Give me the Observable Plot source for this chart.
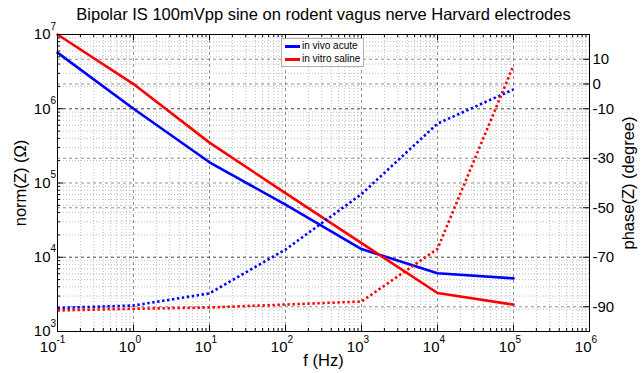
<!DOCTYPE html>
<html><head><meta charset="utf-8">
<script src="https://cdn.jsdelivr.net/npm/d3@7"></script>
<script src="https://cdn.jsdelivr.net/npm/@observablehq/plot@0.6"></script>
<style>
body{margin:0;background:#fff;}
#wrap{position:relative;width:641px;height:373px;font-family:"Liberation Sans",Arial,sans-serif;}
#wrap svg{position:absolute;left:0;top:0;}
#legend{position:absolute;left:281px;top:38px;width:81px;height:27px;background:#fff;border:1px solid #b0b0b0;font-size:10px;color:#000;}
#legend .row{position:absolute;left:3px;height:12px;line-height:12px;white-space:nowrap;}
#legend .sw{display:inline-block;width:15px;height:3px;vertical-align:middle;margin-right:2px;}
</style></head><body><div id="wrap"></div><script>
// ---- data ----
const freq = [0.1, 1, 10, 100, 1000, 10000, 100000];
const vivoMag = [5.7e6, 1.0e6, 1.9e5, 5.1e4, 1.29e4, 6.1e3, 5.2e3];
const vitroMag = [1.0e7, 2.15e6, 3.5e5, 7.3e4, 1.55e4, 3.3e3, 2.3e3];
const vivoPhase = [-90.5, -89.5, -84.6, -66.9, -44.5, -16, -2.2];
const vitroPhase = [-91.5, -90.8, -90.3, -89.1, -87.9, -66.6, 7.5];
const seriesNames = ["in vivo acute", "in vitro saline"];
const seriesColors = ["#0000ff", "#ff0000"];
const xTickExp = [-1, 0, 1, 2, 3, 4, 5, 6];
const yTickExp = [3, 4, 5, 6, 7];
const phaseTicks = [-90, -70, -50, -30, -10, 0, 10];
const titleText = "Bipolar IS 100mVpp sine on rodent vagus nerve Harvard electrodes";
const xLabel = "f (Hz)";
const yLabel = "norm(Z) (\u03A9)";
const y2Label = "phase(Z) (degree)";

// ---- layout ----
const W = 641, H = 373;
const M = {marginLeft: 57, marginRight: 52, marginTop: 34, marginBottom: 42};
const xDom = [0.1, 1e6], yDom = [1e3, 1e7], pDom = [-100, 20];
const font = {fontFamily: "Liberation Sans, Arial, sans-serif", fontSize: "15px", background: "transparent", overflow: "visible"};

const xMajor = xTickExp.map(e => 10 ** e);
const yMajor = yTickExp.map(e => 10 ** e);
const minorOf = exps => exps.slice(0, -1).flatMap(e => d3.range(2, 10).map(m => m * 10 ** e));
const xMinor = minorOf(xTickExp);
const yMinor = minorOf(yTickExp);
const xNeg = xTickExp.filter(e => e < 0), xPos = xTickExp.filter(e => e >= 0);

const rowsMag = [vivoMag, vitroMag].flatMap((arr, s) => freq.map((f, i) => ({f, v: arr[i], s})));
const rowsPh = [vivoPhase, vitroPhase].flatMap((arr, s) => freq.map((f, i) => ({f, v: arr[i], s})));

const pxX = 76, pxY = 74.25; // px per decade (for tick lengths in data units)
const tk = (n, px) => 10 ** (n / px);

const gridMinor = {stroke: "#8a8a8a", strokeOpacity: 0.7, strokeDasharray: "1,2", strokeWidth: 0.8};
const gridMajor = {stroke: "#444", strokeOpacity: 0.75, strokeDasharray: "3,3", strokeWidth: 0.8};
const T = {lineAnchor: "middle"};

const xLab = (exps, dx) => [
  Plot.text(exps, {...T, x: e => 10 ** e, text: () => "10", frameAnchor: "bottom", dy: 16, dx, textAnchor: "end", fontSize: 15}),
  Plot.text(exps, {...T, x: e => 10 ** e, text: e => String(e), frameAnchor: "bottom", dy: 8, dx, textAnchor: "start", fontSize: 10})
];

// layer 1: phase grid and right axis
const p1 = Plot.plot({
  width: W, height: H, ...M,
  x: {type: "log", domain: xDom, axis: null},
  y: {type: "linear", domain: pDom, axis: null},
  style: font,
  marks: [
    Plot.ruleY(phaseTicks, {...gridMajor}),
    Plot.ruleY(phaseTicks, {x1: 1e6 / tk(6, pxX), x2: 1e6, stroke: "#000"}),
    Plot.text(phaseTicks, {...T, y: d => d, text: d => String(d), frameAnchor: "right", textAnchor: "start", dx: 3, fontSize: 15}),
    Plot.text([y2Label], {...T, frameAnchor: "right", textAnchor: "middle", dx: 39, rotate: -90, fontSize: 16.5})
  ]
});

// layer 2: magnitude
const p2 = Plot.plot({
  width: W, height: H, ...M,
  x: {type: "log", domain: xDom, axis: null},
  y: {type: "log", domain: yDom, axis: null},
  style: font,
  marks: [
    Plot.ruleX(xMinor, {...gridMinor}),
    Plot.ruleY(yMinor, {...gridMinor}),
    Plot.ruleX(xMajor, {...gridMajor}),
    Plot.ruleY(yMajor, {...gridMajor}),
    Plot.line(rowsMag, {x: "f", y: "v", z: "s", stroke: d => seriesColors[d.s], strokeWidth: 2.6}),
    Plot.frame({stroke: "#000", strokeWidth: 1}),
    // inward ticks
    Plot.ruleX(xMajor, {y1: 1e3, y2: 1e3 * tk(6, pxY), stroke: "#000"}),
    Plot.ruleX(xMinor, {y1: 1e3, y2: 1e3 * tk(3, pxY), stroke: "#000"}),
    Plot.ruleX(xMajor, {y1: 1e7 / tk(6, pxY), y2: 1e7, stroke: "#000"}),
    Plot.ruleX(xMinor, {y1: 1e7 / tk(3, pxY), y2: 1e7, stroke: "#000"}),
    Plot.ruleY(yMajor, {x1: 0.1, x2: 0.1 * tk(6, pxX), stroke: "#000"}),
    Plot.ruleY(yMinor, {x1: 0.1, x2: 0.1 * tk(3, pxX), stroke: "#000"}),
    // x tick labels
    ...xLab(xNeg, -1),
    ...xLab(xPos, 2),
    // y tick labels
    Plot.text(yTickExp, {...T, y: e => 10 ** e, text: () => "10", frameAnchor: "left", dx: -7, dy: 0, textAnchor: "end", fontSize: 15}),
    Plot.text(yTickExp, {...T, y: e => 10 ** e, text: e => String(e), frameAnchor: "left", dx: -7, dy: -8, textAnchor: "start", fontSize: 10}),
    // titles
    Plot.text([xLabel], {...T, frameAnchor: "bottom", dy: 29, fontSize: 16.5}),
    Plot.text([yLabel], {...T, frameAnchor: "left", textAnchor: "middle", dx: -37, rotate: -90, fontSize: 16.5}),
    Plot.text([titleText], {...T, frameAnchor: "top", dy: -20, fontSize: 16.5})
  ]
});

// layer 3: phase lines
const p3 = Plot.plot({
  width: W, height: H, ...M,
  x: {type: "log", domain: xDom, axis: null},
  y: {type: "linear", domain: pDom, axis: null},
  style: font,
  marks: [
    Plot.line(rowsPh, {x: "f", y: "v", z: "s", stroke: d => seriesColors[d.s], strokeWidth: 2.6, strokeDasharray: "2.4,2.6", strokeLinecap: "butt", strokeLinejoin: "miter"})
  ]
});

const wrap = document.getElementById("wrap");
wrap.append(p1, p2, p3);

// legend
const lg = document.createElement("div");
lg.id = "legend";
seriesNames.forEach((n, i) => {
  const r = document.createElement("div");
  r.className = "row";
  r.style.top = (1 + i * 13) + "px";
  r.innerHTML = `<span class="sw" style="background:${seriesColors[i]}"></span>${n}`;
  lg.append(r);
});
wrap.append(lg);
</script></body></html>
